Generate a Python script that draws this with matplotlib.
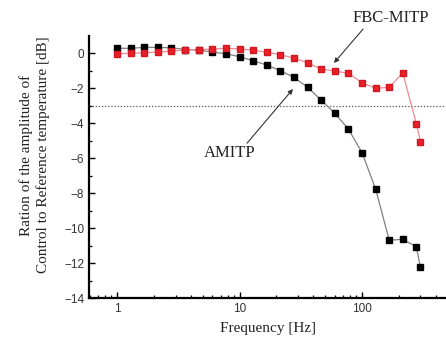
import numpy as np
import matplotlib
matplotlib.use("Agg")
import matplotlib.pyplot as plt
from matplotlib.ticker import FixedLocator, NullFormatter

# frequency points [Hz]
freq = [1, 1.29, 1.67, 2.15, 2.78, 3.59, 4.64, 5.99, 7.74, 10, 12.9, 16.7,
        21.5, 27.8, 35.9, 46.4, 59.9, 77.4, 100, 129, 167, 215, 278, 300]

# amplitude ratio [dB]
amitp = [0.29, 0.29, 0.34, 0.34, 0.32, 0.22, 0.19, 0.07, -0.02, -0.19, -0.42, -0.67,
         -0.99, -1.37, -1.94, -2.67, -3.43, -4.33, -5.68, -7.75, -10.7, -10.63, -11.07, -12.25]
fbc_mitp = [-0.02, 0.0, 0.04, 0.07, 0.12, 0.2, 0.2, 0.25, 0.29, 0.25, 0.19, 0.06,
            -0.08, -0.27, -0.54, -0.9, -1.01, -1.14, -1.68, -2.0, -1.94, -1.11, -4.04, -5.05]

y_major = [0, -2, -4, -6, -8, -10, -12, -14]
x_major = [1, 10, 100]
x_labels = ["1", "10", "100"]

serif = "Liberation Serif"
sans = "Liberation Sans"

fig = plt.figure(figsize=(4.46, 3.45), dpi=100)
ax = fig.add_axes([0.1996, 0.136, 0.8004, 0.760])

ax.axhline(-3, color="#555555", ls=(0, (1, 1.5)), lw=0.9, zorder=1)

ax.plot(freq, amitp, color="#808080", lw=0.9, zorder=2)
ax.plot(freq, amitp, ls="none", marker="s", ms=4.2, mfc="black", mec="black", zorder=3)
ax.plot(freq, fbc_mitp, color="#f08a90", lw=0.9, zorder=2)
ax.plot(freq, fbc_mitp, ls="none", marker="s", ms=4.2, mfc="#e8202a", mec="#d01820", zorder=3)

ax.set_xscale("log")
ax.set_xlim(0.59, 485)
ax.set_ylim(-14, 1)

ax.xaxis.set_major_locator(FixedLocator(x_major))
ax.set_xticklabels(x_labels)
minor = [m * d for d in [1, 10, 100] for m in range(2, 10)] + [0.6, 0.7, 0.8, 0.9]
ax.xaxis.set_minor_locator(FixedLocator(minor))
ax.xaxis.set_minor_formatter(NullFormatter())
ax.yaxis.set_major_locator(FixedLocator(y_major))
ax.yaxis.set_minor_locator(FixedLocator(list(range(-13, 1))))

for s in ["top", "right"]:
    ax.spines[s].set_visible(False)
ax.spines["left"].set_linewidth(1.6)
ax.spines["bottom"].set_linewidth(1.6)

ax.tick_params(which="major", direction="in", length=4, width=1.0, labelsize=8.5,
               labelcolor="#333333")
ax.tick_params(which="minor", direction="in", length=2.5, width=0.9)
for lab in ax.get_xticklabels() + ax.get_yticklabels():
    lab.set_family(sans)

ax.set_xlabel("Frequency [Hz]", fontsize=11, family=serif, color="#222222", labelpad=5)
ax.set_ylabel("Ration of the amplitude of\nControl to Reference temperature [dB]",
              fontsize=11, family=serif, color="#222222", linespacing=1.3)
ax.yaxis.set_label_coords(-0.11, 0.545)

# labels and arrows
ax.text(171, 2.02, "FBC-MITP", fontsize=12, family=serif, ha="center", va="center",
        color="#222222", clip_on=False)
ax.annotate("", xy=(59, -0.55), xytext=(102, 1.39), annotation_clip=False,
            arrowprops=dict(arrowstyle="-|>", color="#333333", lw=0.8,
                            mutation_scale=7, shrinkA=0, shrinkB=0))
ax.text(8.37, -5.7, "AMITP", fontsize=12, family=serif, ha="center", va="center",
        color="#222222")
ax.annotate("", xy=(27.3, -2.04), xytext=(11.5, -5.14),
            arrowprops=dict(arrowstyle="-|>", color="#333333", lw=0.8,
                            mutation_scale=7, shrinkA=0, shrinkB=0))

fig.savefig("out.png", dpi=100)
